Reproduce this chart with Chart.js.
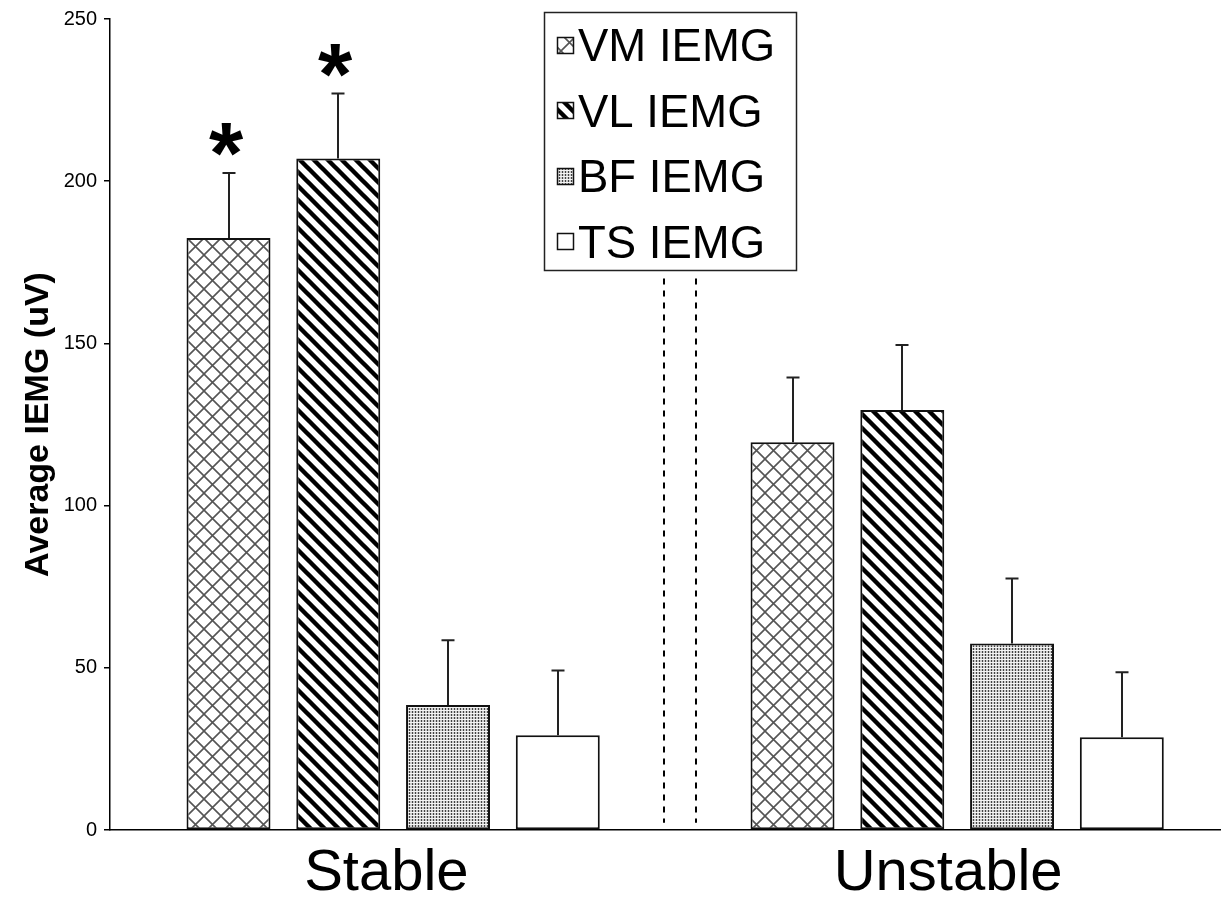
<!DOCTYPE html>
<html><head><meta charset="utf-8">
<script src="https://cdn.jsdelivr.net/npm/chart.js@4.4.1/dist/chart.umd.min.js"></script>
<style>html,body{margin:0;padding:0;background:#fff}#c{display:block}</style>
</head><body>
<canvas id="c" width="1222" height="918"></canvas>
<script>
// ---- data ----
const categories = ['Stable', 'Unstable'];
const seriesLabels = ['VM IEMG', 'VL IEMG', 'BF IEMG', 'TS IEMG'];
const vmValues = [182.5, 119.5];
const vlValues = [207.0, 129.5];
const bfValues = [38.5, 57.5];
const tsValues = [29.2, 28.6];
const vmErrors = [20, 20];
const vlErrors = [20, 20];
const bfErrors = [20, 20];
const tsErrors = [20, 20];
const vmMarks = ['*', ''];
const vlMarks = ['*', ''];
const bfMarks = ['', ''];
const tsMarks = ['', ''];
const yTickValues = [0, 50, 100, 150, 200, 250];
const yTitle = 'Average IEMG (uV)';

// ---- layout / style (not data) ----
const FONT = '"Liberation Sans", Arial, Helvetica, sans-serif';
const xRange = [-0.502, 1.466];
const categoryLabelPos = [-0.012, 0.984];
const dividerX = [0.4805, 0.5372];
const dividerSpan = [170, 2.2];

function makeTile(size, draw) {
  const c = document.createElement('canvas');
  c.width = size; c.height = size;
  const g = c.getContext('2d');
  draw(g, size);
  return document.getElementById('c').getContext('2d').createPattern(c, 'repeat');
}
const crossPattern = makeTile(17, (g, T) => {
  g.fillStyle = '#fff'; g.fillRect(0, 0, T, T);
  g.strokeStyle = '#555'; g.lineWidth = 1.6;
  g.beginPath();
  g.moveTo(-1, -1); g.lineTo(T + 1, T + 1);
  g.moveTo(T + 1, -1); g.lineTo(-1, T + 1);
  g.stroke();
});
const stripePattern = makeTile(14, (g, T) => {
  g.fillStyle = '#fff'; g.fillRect(0, 0, T, T);
  g.strokeStyle = '#000'; g.lineWidth = 4.4;
  g.beginPath();
  for (let m = -1; m <= 1; m++) {
    g.moveTo(-T, -T + m * T); g.lineTo(2 * T, 2 * T + m * T);
  }
  g.stroke();
});
const dotPattern = makeTile(3, (g, T) => {
  g.fillStyle = '#cbcbcb'; g.fillRect(0, 0, 3, 3);
  g.fillStyle = '#f4f4f4'; g.fillRect(0, 2, 3, 1);
  g.fillStyle = '#444'; g.fillRect(1, 0, 1, 2);
});
const fills = [crossPattern, stripePattern, dotPattern, '#ffffff'];

const seriesValues = [vmValues, vlValues, bfValues, tsValues];
const seriesErrors = [vmErrors, vlErrors, bfErrors, tsErrors];
const seriesMarks = [vmMarks, vlMarks, bfMarks, tsMarks];

const datasets = seriesLabels.map((label, i) => ({
  label,
  data: categories.map((c, j) => ({ x: j, y: seriesValues[i][j] })),
  errors: seriesErrors[i],
  marks: seriesMarks[i],
  backgroundColor: fills[i],
  borderColor: '#111',
  borderWidth: 2,
  borderSkipped: false,
  categoryPercentage: 0.7784,
  barPercentage: 0.765
}));

const extras = {
  id: 'extras',
  afterDatasetsDraw(chart) {
    const { ctx, scales: { x, y }, chartArea } = chart;
    ctx.save();
    // dashed break lines
    ctx.strokeStyle = '#000'; ctx.lineWidth = 2; ctx.setLineDash([6, 6]);
    dividerX.forEach(v => {
      const px = Math.round(x.getPixelForValue(v));
      ctx.beginPath();
      ctx.moveTo(px, y.getPixelForValue(dividerSpan[0]));
      ctx.lineTo(px, y.getPixelForValue(dividerSpan[1]));
      ctx.stroke();
    });
    ctx.setLineDash([]);
    // error bars + significance marks
    chart.data.datasets.forEach((ds, i) => {
      const meta = chart.getDatasetMeta(i);
      meta.data.forEach((bar, j) => {
        const v = ds.data[j].y, e = ds.errors[j];
        const top = y.getPixelForValue(v + e);
        const bx = Math.round(bar.x);
        ctx.strokeStyle = '#222'; ctx.lineWidth = 2;
        ctx.beginPath();
        ctx.moveTo(bx, bar.y); ctx.lineTo(bx, top);
        ctx.moveTo(bx - 6.5, top); ctx.lineTo(bx + 6.5, top);
        ctx.stroke();
        const mk = ds.marks[j];
        if (mk) {
          ctx.font = 'bold 88px ' + FONT;
          ctx.fillStyle = '#000';
          ctx.textAlign = 'center';
          ctx.textBaseline = 'alphabetic';
          const m = ctx.measureText(mk);
          const bottom = top - 17;
          ctx.fillText(mk, bx - 3, bottom - m.actualBoundingBoxDescent);
        }
      });
    });
    // category labels
    ctx.font = '58px ' + FONT;
    ctx.fillStyle = '#000'; ctx.textAlign = 'center'; ctx.textBaseline = 'alphabetic';
    categories.forEach((c, j) => {
      ctx.fillText(c, x.getPixelForValue(categoryLabelPos[j]), 890);
    });
    // y title
    ctx.save();
    ctx.translate(39, (chartArea.top + chartArea.bottom) / 2);
    ctx.rotate(-Math.PI / 2);
    ctx.font = 'bold 34px ' + FONT;
    ctx.textAlign = 'center'; ctx.textBaseline = 'middle';
    ctx.fillText(yTitle, 0, 0);
    ctx.restore();
    // legend
    const L = { x: 544, y: 12, w: 252, h: 258 };
    ctx.strokeStyle = '#222'; ctx.lineWidth = 1.5;
    ctx.fillStyle = '#fff';
    ctx.fillRect(L.x, L.y, L.w, L.h);
    ctx.strokeRect(L.x + 0.5, L.y + 0.5, L.w, L.h);
    ctx.font = '45.5px ' + FONT;
    ctx.textAlign = 'left'; ctx.textBaseline = 'alphabetic';
    chart.data.datasets.forEach((ds, i) => {
      const base = 61 + i * 65.5;
      const s = 17, px = 557, py = Math.round(base - 16 - s / 2);
      ctx.fillStyle = ds.backgroundColor;
      ctx.fillRect(px, py, s, s);
      ctx.strokeStyle = '#111'; ctx.lineWidth = 1.5;
      ctx.strokeRect(px + 0.5, py + 0.5, s - 1, s - 1);
      ctx.fillStyle = '#000';
      ctx.fillText(ds.label, 578, base);
    });
    ctx.restore();
  }
};

new Chart(document.getElementById('c'), {
  type: 'bar',
  data: { datasets },
  plugins: [extras],
  options: {
    responsive: false,
    animation: false,
    devicePixelRatio: 1,
    layout: { padding: { left: 0, right: 2, top: 18, bottom: 0 } },
    plugins: { legend: { display: false }, tooltip: { enabled: false } },
    scales: {
      x: {
        type: 'linear',
        offset: false,
        min: xRange[0], max: xRange[1],
        grid: { display: false },
        border: { display: true, color: '#000', width: 1.5 },
        ticks: { display: false },
        afterBuildTicks: s => { s.ticks = categories.map((c, j) => ({ value: j })); },
        afterFit: s => { s.height = 88; }
      },
      y: {
        min: 0, max: 250,
        afterBuildTicks: s => { s.ticks = yTickValues.map(v => ({ value: v })); },
        ticks: { color: '#000', font: { family: FONT, size: 20 }, padding: 7 },
        grid: { drawOnChartArea: false, drawTicks: true, tickLength: 6, color: '#000', lineWidth: 1.5 },
        border: { display: true, color: '#000', width: 1.5 },
        afterFit: s => { s.width = 110; }
      }
    }
  }
});
</script>
</body></html>
